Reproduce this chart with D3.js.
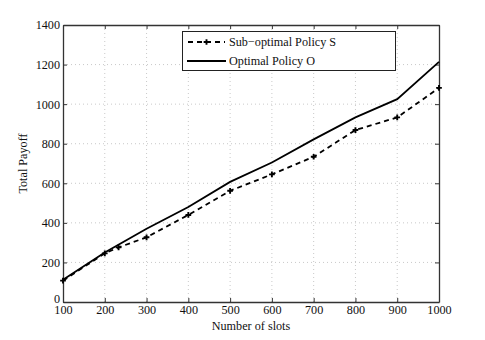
<!DOCTYPE html>
<html>
<head>
<meta charset="utf-8">
<script src="https://cdn.jsdelivr.net/npm/d3@7"></script>
<style>
  body { margin: 0; background: #fff; }
  svg { display: block; font-family: "Liberation Serif", "DejaVu Serif", serif; }
  .grid line { stroke: #bbb; stroke-dasharray: 1,3; stroke-width: 0.8; }
</style>
</head>
<body>
<svg id="chart" width="485" height="340"></svg>
<script>
// data
const xTicks = [100, 200, 300, 400, 500, 600, 700, 800, 900, 1000];
const yTicks = [0, 200, 400, 600, 800, 1000, 1200, 1400];
const subX = [100, 200, 233, 300, 400, 500, 600, 700, 800, 900, 1000];
const subY = [108, 246, 276, 327, 440, 562, 645, 734, 869, 933, 1082];
const optX = [100, 200, 300, 400, 500, 600, 700, 800, 900, 1000];
const optY = [112, 250, 370, 480, 607, 705, 822, 933, 1025, 1214];
const seriesNames = ['Sub\u2212optimal Policy S', 'Optimal Policy O'];

const FS = 12.2;
const svg = d3.select('#chart');
const margin = { left: 63, right: 46, top: 25, bottom: 38 };
const W = 485, H = 340;
const x = d3.scaleLinear().domain([100, 1000]).range([margin.left, W - margin.right]);
const y = d3.scaleLinear().domain([0, 1400]).range([H - margin.bottom, margin.top]);

// grid
const grid = svg.append('g').attr('class', 'grid');
grid.selectAll('line.gx').data(xTicks.slice(1, -1)).join('line')
  .attr('x1', d => x(d)).attr('x2', d => x(d))
  .attr('y1', y(0)).attr('y2', y(1400));
grid.selectAll('line.gy').data(yTicks.slice(1, -1)).join('line')
  .attr('class', 'gy')
  .attr('x1', x(100)).attr('x2', x(1000))
  .attr('y1', d => y(d)).attr('y2', d => y(d));

// axes, matlab style: inward ticks on all sides
const tk = 4;
const axB = svg.append('g').attr('transform', `translate(0,${y(0)})`)
  .call(d3.axisBottom(x).tickValues(xTicks).tickSizeInner(-tk).tickSizeOuter(0).tickPadding(3).tickFormat(d3.format('d')));
const axT = svg.append('g').attr('transform', `translate(0,${y(1400)})`)
  .call(d3.axisTop(x).tickValues(xTicks).tickSizeInner(-tk).tickSizeOuter(0).tickFormat(''));
const axL = svg.append('g').attr('transform', `translate(${x(100)},0)`)
  .call(d3.axisLeft(y).tickValues(yTicks).tickSizeInner(-tk).tickSizeOuter(0).tickPadding(3).tickFormat(d3.format('d')));
const axR = svg.append('g').attr('transform', `translate(${x(1000)},0)`)
  .call(d3.axisRight(y).tickValues(yTicks).tickSizeInner(-tk).tickSizeOuter(0).tickFormat(''));
[axB, axT, axL, axR].forEach(a => {
  a.attr('font-family', null).attr('font-size', null);
  a.select('.domain').attr('stroke', '#333').attr('stroke-width', 1.3);
  a.selectAll('.tick line').attr('stroke', '#333');
  a.selectAll('text').attr('font-size', FS).attr('fill', '#111');
});
// the "0" sits a bit higher than the "100" below it
axL.selectAll('.tick').filter(d => d === 0).select('text').attr('dy', '0em');

// lines
const subData = subX.map((v, i) => [v, subY[i]]);
const optData = optX.map((v, i) => [v, optY[i]]);
const line = d3.line().x(d => x(d[0])).y(d => y(d[1]));

svg.append('path').datum(optData)
  .attr('d', line).attr('fill', 'none').attr('stroke', '#000').attr('stroke-width', 1.8);
svg.append('path').datum(subData)
  .attr('d', line).attr('fill', 'none').attr('stroke', '#000').attr('stroke-width', 1.8)
  .attr('stroke-dasharray', '5,4');

const plus = d3.symbol().type(d3.symbolCross).size(18);
svg.selectAll('path.mk').data(subData).join('path')
  .attr('class', 'mk')
  .attr('transform', d => `translate(${x(d[0])},${y(d[1])})`)
  .attr('d', plus).attr('fill', '#000');

// legend
const lg = svg.append('g');
lg.append('rect').attr('x', 182.5).attr('y', 31.5).attr('width', 213).attr('height', 39)
  .attr('fill', '#fff').attr('stroke', '#222').attr('stroke-width', 1);
const rows = [42, 61];
lg.append('line').attr('x1', 188).attr('x2', 225).attr('y1', rows[0]).attr('y2', rows[0])
  .attr('stroke', '#000').attr('stroke-width', 1.8).attr('stroke-dasharray', '5,4');
lg.append('path').attr('transform', `translate(206.5,${rows[0]})`).attr('d', plus);
lg.append('line').attr('x1', 187).attr('x2', 226).attr('y1', rows[1]).attr('y2', rows[1])
  .attr('stroke', '#000').attr('stroke-width', 1.8);
lg.selectAll('text').data(seriesNames).join('text')
  .attr('x', 229).attr('y', (d, i) => rows[i]).attr('dy', '0.35em')
  .attr('font-size', FS).attr('fill', '#111').text(d => d);

// axis titles
svg.append('text').attr('x', x(550)).attr('y', 330).attr('text-anchor', 'middle')
  .attr('font-size', FS).attr('fill', '#111').text('Number of slots');
svg.append('text').attr('transform', `translate(27,${(y(0) + y(1400)) / 2}) rotate(-90)`)
  .attr('text-anchor', 'middle').attr('font-size', FS).attr('fill', '#111').text('Total Payoff');
</script>
</body>
</html>
